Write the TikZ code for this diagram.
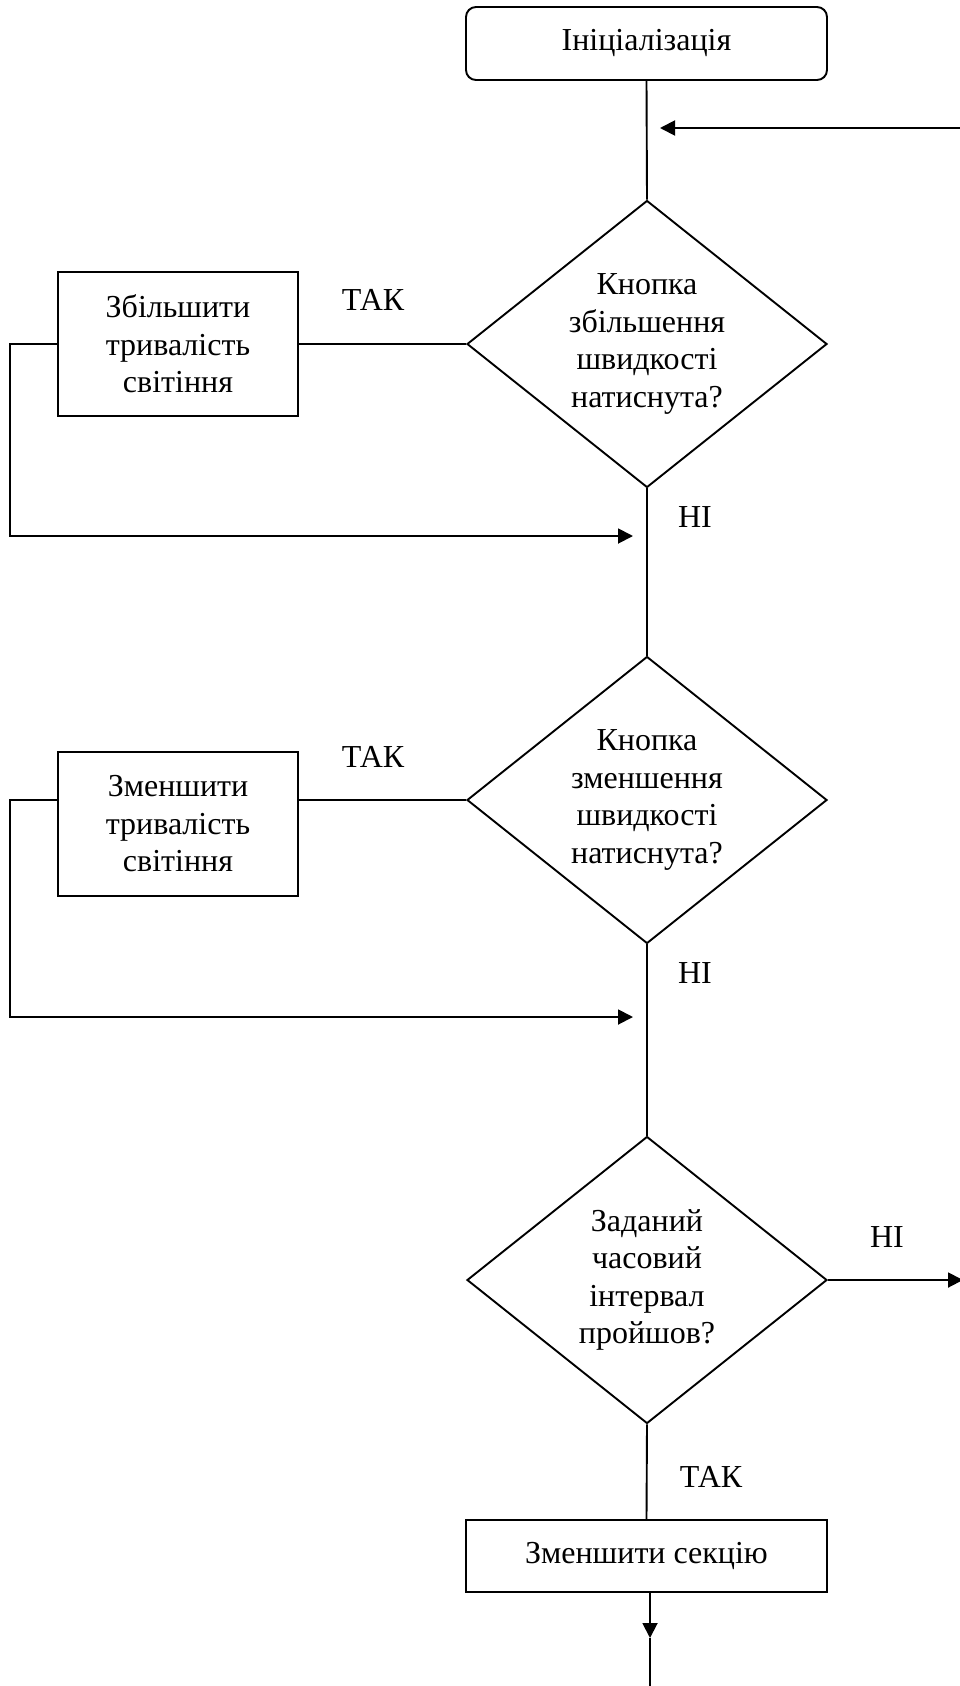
\documentclass[tikz,border=0pt]{standalone}
\usepackage{fontspec}
\setmainfont{Liberation Serif}
\usetikzlibrary{shapes.geometric,arrows.meta}
\begin{document}
\begin{tikzpicture}[x=1pt,y=-1pt,
  every node/.style={font=\fontsize{32}{37.5}\selectfont},
  conn/.style={line width=1.9pt},
  arr/.style={line width=1.9pt,-{Triangle[length=15pt,width=15pt]}},
  procbox/.style={draw,line width=1.9pt,align=center,inner sep=0pt},
  startbox/.style={procbox,rounded corners=10pt},
  decision/.style={draw,diamond,aspect=1.25,line width=1.9pt,align=center,inner sep=0pt,
    minimum width=360pt,minimum height=287pt},
  lbl/.style={inner sep=0pt}]
\useasboundingbox (0,0) rectangle (960,1686);

\node[startbox,minimum width=361pt,minimum height=73pt] (init) at (646.5,43.5) {Ініціалізація};
\node[decision] (d1) at (647,344) {Кнопка\\збільшення\\швидкості\\натиснута?};
\node[procbox,minimum width=240pt,minimum height=144pt] (b1) at (178,344) {Збільшити\\тривалість\\світіння};
\node[decision] (d2) at (647,800) {Кнопка\\зменшення\\швидкості\\натиснута?};
\node[procbox,minimum width=240pt,minimum height=144pt] (b2) at (178,824) {Зменшити\\тривалість\\світіння};
\node[decision] (d3) at (647,1280) {Заданий\\часовий\\інтервал\\пройшов?};
\node[procbox,minimum width=361pt,minimum height=72pt] (b3) at (646.5,1556) {Зменшити секцію};

\node[lbl] (tak1) at (373,300) {ТАК};
\node[lbl] (ni1) at (695,517) {НІ};
\node[lbl] (tak2) at (373,757) {ТАК};
\node[lbl] (ni2) at (695,973) {НІ};
\node[lbl] (ni3) at (887,1237) {НІ};
\node[lbl] (tak3) at (711,1477) {ТАК};

\coordinate (retstart) at (962,128);
\coordinate (retend) at (660,128);
\coordinate (l1a) at (10,344);
\coordinate (l1b) at (10,536);
\coordinate (l1end) at (633,536);
\coordinate (l2a) at (10,800);
\coordinate (l2b) at (10,1017);
\coordinate (l2end) at (633,1017);
\coordinate (outr) at (963,1280);
\coordinate (b3out) at (650,1592);
\coordinate (b3mid) at (650,1638);
\coordinate (b3end) at (650,1690);

\draw[conn] (init.south) -- (d1.north);
\draw[arr] (retstart) -- (retend);
\draw[conn] (d1.west) -- (b1.east);
\draw[arr] (b1.west) -- (l1a) -- (l1b) -- (l1end);
\draw[conn] (d1.south) -- (d2.north);
\draw[conn] (d2.west) -- (b2.east |- d2.west);
\draw[arr] (b2.west |- d2.west) -- (l2a) -- (l2b) -- (l2end);
\draw[conn] (d2.south) -- (d3.north);
\draw[arr] (d3.east) -- (outr);
\draw[conn] (d3.south) -- (b3.north);
\draw[arr] (b3out) -- (b3mid);
\draw[conn] (b3mid) -- (b3end);
\end{tikzpicture}
\end{document}
